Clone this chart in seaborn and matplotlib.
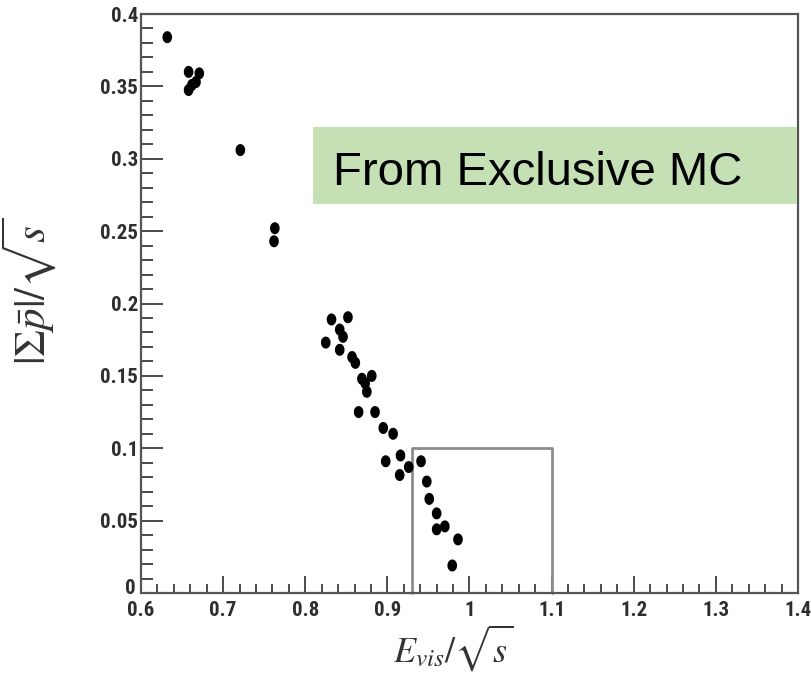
import numpy as np
import pandas as pd
import matplotlib
matplotlib.use("Agg")
import matplotlib.pyplot as plt
from matplotlib import font_manager
from matplotlib.patches import Rectangle
from matplotlib.transforms import ScaledTranslation
from matplotlib.ticker import MultipleLocator, FixedLocator, FixedFormatter
import seaborn as sns

# Exclusive MC events: visible energy vs. total momentum, both scaled by sqrt(s)
e_vis = [0.632, 0.658, 0.671, 0.667, 0.658, 0.662, 0.721, 0.763, 0.762,
         0.832, 0.852, 0.842, 0.846, 0.825, 0.842, 0.857, 0.861, 0.869,
         0.881, 0.873, 0.875, 0.865, 0.885, 0.895, 0.907, 0.898, 0.916,
         0.926, 0.915, 0.941, 0.948, 0.951, 0.960, 0.960, 0.970, 0.986,
         0.979]
p_sum = [0.384, 0.360, 0.359, 0.353, 0.3475, 0.351, 0.306, 0.252, 0.243,
         0.189, 0.1905, 0.182, 0.177, 0.173, 0.168, 0.163, 0.159, 0.148,
         0.150, 0.145, 0.139, 0.125, 0.125, 0.114, 0.110, 0.091, 0.095,
         0.087, 0.0815, 0.091, 0.077, 0.065, 0.055, 0.044, 0.046, 0.037,
         0.019]

# Selection window
cut_e = [0.93, 1.1]
cut_p = [0.0, 0.1]

x_ticks = [0.6, 0.7, 0.8, 0.9, 1.0, 1.1, 1.2, 1.3, 1.4]
x_tick_labels = ["0.6", "0.7", "0.8", "0.9", "1", "1.1", "1.2", "1.3", "1.4"]
y_ticks = [0.0, 0.05, 0.1, 0.15, 0.2, 0.25, 0.3, 0.35, 0.4]
y_tick_labels = ["0", "0.05", "0.1", "0.15", "0.2", "0.25", "0.3", "0.35", "0.4"]

x_title = r"$E_{vis}/\sqrt{s}$"
y_title = r"$|\Sigma\bar{p}|/\sqrt{s}$"
banner = "From Exclusive MC"

sns.set_theme(style="white")
plt.rcParams["mathtext.fontset"] = "stix"

# prefer a condensed sans for the tick numbers if one is installed
installed = {f.name for f in font_manager.fontManager.ttflist}
narrow = None
for cand in ["Liberation Sans Narrow", "Arial Narrow", "DejaVu Sans Condensed",
             "Roboto Condensed", "Open Sans Condensed", "Noto Sans Condensed"]:
    if cand in installed:
        narrow = cand
        break
tick_family = [narrow] if narrow else ["Liberation Sans"]
tick_size = 15 if narrow else 13.5

df = pd.DataFrame({"e": e_vis, "p": p_sum})

fig = plt.figure(figsize=(8.12, 6.74), dpi=100)
ax = fig.add_axes([0.1736, 0.1202, 0.8092, 0.8590])

# slightly tall oval marker
t = np.linspace(0, 2 * np.pi, 40)
oval = list(zip(0.8 * np.cos(t), np.sin(t)))

sns.scatterplot(data=df, x="e", y="p", ax=ax, marker=oval, s=75,
                color="black", edgecolor="none", linewidth=0, zorder=3)

ax.set_xlim(0.6, 1.4)
ax.set_ylim(0.0, 0.4)

ax.xaxis.set_major_locator(FixedLocator(x_ticks))
ax.xaxis.set_major_formatter(FixedFormatter(x_tick_labels))
ax.xaxis.set_minor_locator(MultipleLocator(0.02))
ax.yaxis.set_major_locator(FixedLocator(y_ticks))
ax.yaxis.set_major_formatter(FixedFormatter(y_tick_labels))
ax.yaxis.set_minor_locator(MultipleLocator(0.01))

ax.tick_params(axis="both", which="both", direction="in", color="#4a4a4a",
               width=1.4, top=False, right=False, bottom=True, left=True)
ax.tick_params(axis="y", which="major", length=15.5, pad=2)
ax.tick_params(axis="y", which="minor", length=8.5)
ax.tick_params(axis="x", which="major", length=12.5, pad=6)
ax.tick_params(axis="x", which="minor", length=6.3)

for lab in ax.get_xticklabels() + ax.get_yticklabels():
    lab.set_fontfamily(tick_family)
    lab.set_fontweight("bold")
    lab.set_fontsize(tick_size)
    lab.set_color("#2e2e2e")

# lift the zero label a touch so it clears the first x label
zero_lab = ax.yaxis.get_major_ticks()[0].label1
zero_lab.set_transform(zero_lab.get_transform()
                       + ScaledTranslation(-2 / 72, 5 / 72, fig.dpi_scale_trans))

for sp in ax.spines.values():
    sp.set_visible(True)
    sp.set_color("#555555")
    sp.set_linewidth(1.6)

# signal window
ax.plot([cut_e[0], cut_e[0], cut_e[1], cut_e[1]],
        [cut_p[0], cut_p[1], cut_p[1], cut_p[0]],
        color="#8c8c8c", linewidth=2.0, zorder=2, clip_on=False)

ax.set_xlabel(x_title, fontsize=26, color="#333333")
ax.xaxis.set_label_coords(0.475, -0.051)
ax.set_ylabel(y_title, fontsize=31, color="#333333")
ax.yaxis.set_label_coords(-0.126, 0.52)

# banner in the upper right
fig.patches.append(Rectangle((0.385, 0.697), 0.596, 0.1151,
                             transform=fig.transFigure, facecolor="#c5e0b4",
                             edgecolor="none", zorder=5))
fig.text(0.4105, 0.7255, banner, fontsize=34, family=["Liberation Sans", "DejaVu Sans"],
         color="black", ha="left", va="baseline", zorder=6)

fig.savefig("out.png", dpi=100)
